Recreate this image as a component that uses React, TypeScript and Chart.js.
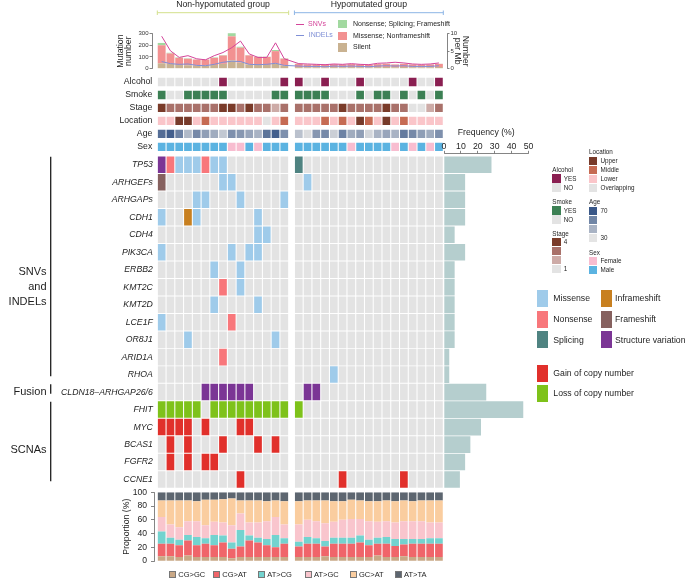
import React, { useEffect, useRef } from 'react';
import { Chart, registerables } from 'chart.js';

Chart.register(...registerables);

const FONT = "'Liberation Sans', Arial, Helvetica, sans-serif";
const INK = '#1e1e1e';
Chart.defaults.font.family = FONT;
Chart.defaults.color = INK;

// ---------------- data ----------------
const groupNames = ['Non-hypomutated group', 'Hypomutated group'];
const N_LEFT = 15;
const N_RIGHT = 17;

// top panel: mutation numbers (stacked) and rates per Mb (lines)
const silentCounts = [45, 40, 30, 28, 25, 25, 30, 40, 70, 50, 35, 30, 30, 40, 25,
  12, 11, 11, 10, 12, 11, 12, 11, 10, 12, 13, 11, 13, 11, 10, 11, 13];
const missenseCounts = [156, 90, 62, 56, 52, 52, 62, 72, 208, 130, 78, 70, 70, 110, 60,
  27, 24, 24, 23, 25, 24, 26, 24, 23, 26, 27, 24, 27, 24, 23, 24, 27];
const nonsenseCounts = [20, 6, 4, 4, 2, 2, 4, 4, 27, 8, 3, 2, 2, 10, 3,
  2, 1, 1, 1, 1, 1, 1, 1, 1, 1, 2, 1, 1, 1, 1, 1, 1];
const snvPerMb = [9.3, 5.1, 3.2, 3.7, 2.8, 2.5, 3.7, 4.6, 6.0, 7.9, 4.2, 3.2, 3.2, 7.4, 2.8,
  1.4, 1.3, 1.2, 1.1, 1.3, 1.2, 1.4, 1.2, 1.1, 1.5, 1.6, 1.8, 1.6, 1.3, 1.2, 1.3, 1.6];
const indelPerMb = [2.0, 1.4, 1.2, 1.3, 0.9, 0.8, 1.2, 1.8, 2.1, 2.0, 1.2, 1.1, 1.2, 1.5, 0.9,
  0.7, 0.6, 0.6, 0.5, 0.7, 0.6, 0.7, 0.6, 0.5, 0.7, 0.8, 0.7, 0.8, 0.6, 0.6, 0.6, 0.8];
const mutationTicks = [0, 100, 200, 300];
const perMbTicks = [0, 5, 10];

// clinical annotations
const annotationNames = ['Alcohol', 'Smoke', 'Stage', 'Location', 'Age', 'Sex'];
const alcohol = [0, 0, 0, 0, 0, 0, 0, 1, 0, 0, 0, 0, 0, 0, 1,
  1, 0, 0, 1, 0, 0, 0, 1, 0, 0, 0, 0, 0, 1, 0, 0, 1];
const smoke = [1, 0, 0, 1, 1, 1, 1, 1, 0, 0, 0, 0, 0, 1, 1,
  1, 1, 1, 1, 0, 0, 0, 1, 0, 1, 1, 0, 1, 0, 1, 0, 1];
const stage = [4, 3, 3, 3, 3, 3, 3, 4, 4, 3, 4, 3, 3, 2, 3,
  3, 3, 3, 3, 3, 4, 3, 3, 3, 3, 4, 3, 3, 1, 1, 2, 3];
const location = ['L', 'L', 'U', 'U', 'L', 'M', 'L', 'L', 'L', 'L', 'L', 'L', 'O', 'L', 'M',
  'L', 'L', 'L', 'M', 'L', 'M', 'L', 'U', 'M', 'L', 'U', 'L', 'M', 'L', 'L', 'L', 'L'];
const age = [64, 68, 58, 42, 56, 50, 46, 38, 54, 52, 48, 44, 62, 68, 54,
  40, 32, 52, 56, 36, 58, 46, 50, 34, 44, 48, 44, 60, 56, 50, 46, 54];
const sex = ['M', 'M', 'M', 'M', 'M', 'M', 'M', 'M', 'F', 'F', 'M', 'F', 'M', 'M', 'M',
  'M', 'M', 'M', 'M', 'M', 'M', 'F', 'M', 'M', 'M', 'M', 'F', 'M', 'F', 'M', 'F', 'M'];

// oncoprint (M missense, N nonsense, P splicing, I inframeshift, F frameshift,
// V structure variation, G gain, L loss, . none); left group | right group
const geneNames = ['TP53', 'ARHGEFs', 'ARHGAPs', 'CDH1', 'CDH4', 'PIK3CA', 'ERBB2', 'KMT2C',
  'KMT2D', 'LCE1F', 'OR8J1', 'ARID1A', 'RHOA', 'CLDN18\u2013ARHGAP26/6', 'FHIT', 'MYC',
  'BCAS1', 'FGFR2', 'CCNE1'];
const geneCodes = [
  'VNMMMNMM.......|P................',
  'F......MM......|.M...............',
  '....MM...M....M|.................',
  'M..IM......M...|.................',
  '...........MM..|.................',
  'M.......M.MM...|.................',
  '......M..M.....|.................',
  '.......N.M.....|.................',
  '......M....M...|.................',
  'M.......N......|.................',
  '...M.........M.|.................',
  '.......N.......|.................',
  '...............|....M............',
  '.....VVVVVV....|.VV..............',
  'LLLLL.LLLLLLLLL|L................',
  'GGGG.G...GG....|.................',
  '.G.G...G...G.G.|.................',
  '.G.G.GG........|.................',
  '.........G.....|.....G......G....',
];
const geneFrequency = [28.1, 12.5, 12.5, 12.5, 6.3, 12.5, 6.3, 6.3, 6.3, 6.3, 6.3, 3.1, 3.1,
  25.0, 46.9, 21.9, 15.6, 12.5, 9.4];
const frequencyTicks = [0, 10, 20, 30, 40, 50];
const geneGroupLabels = [['SNVs', 'and', 'INDELs'], ['Fusion'], ['SCNAs']];
const geneGroupFirst = [0, 13, 14];
const geneGroupLast = [12, 13, 18];
const geneGroupLabelRow = [7, 13, 16.3];

// bottom panel: substitution spectrum (%)
const spectrumNames = ['CG>GC', 'CG>AT', 'AT>CG', 'AT>GC', 'GC>AT', 'AT>TA'];
const cgGc = [7, 7, 6, 8, 6, 6, 6, 6, 4, 6, 6, 6, 6, 6, 6,
  6, 6, 6, 7, 6, 6, 6, 6, 6, 8, 6, 6, 7, 6, 6, 6, 6];
const cgAt = [18, 18, 17, 22, 17, 19, 17, 21, 14, 15, 24, 21, 17, 14, 19,
  15, 19, 19, 14, 19, 19, 19, 21, 17, 17, 19, 16, 17, 19, 19, 19, 19];
const atCg = [18, 9, 8, 8, 12, 8, 15, 10, 9, 24, 7, 7, 9, 18, 8,
  7, 10, 8, 8, 9, 9, 9, 10, 8, 9, 10, 10, 8, 7, 7, 8, 8];
const atGc = [21, 19, 18, 20, 23, 19, 19, 19, 25, 24, 19, 22, 26, 26, 20,
  25, 25, 25, 26, 23, 26, 27, 24, 27, 23, 23, 24, 26, 26, 26, 23, 23];
const gcAt = [24, 35, 39, 30, 29, 37, 32, 34, 39, 19, 32, 32, 29, 24, 34,
  34, 28, 30, 33, 30, 27, 28, 27, 29, 30, 30, 31, 30, 29, 30, 32, 32];
const atTa = [12, 12, 12, 12, 13, 11, 11, 10, 9, 12, 12, 12, 13, 12, 13,
  13, 12, 12, 12, 13, 13, 11, 12, 13, 13, 12, 13, 12, 13, 12, 12, 12];
const proportionTicks = [0, 20, 40, 60, 80, 100];

// ---------------- styles ----------------
const W = 685;
const H = 578;
const GAP = 0.657;
const positions = Array.from({ length: N_LEFT + N_RIGHT }, (_, i) => (i < N_LEFT ? i : i + GAP));
const GRID_L = 157.3;
const GRID_R = 443.3;
const X_MIN = -0.5;
const X_MAX = N_LEFT + GAP + N_RIGHT - 1 + 0.5;
const UNIT = (GRID_R - GRID_L) / (X_MAX - X_MIN);

const GREY = '#E3E3E3';
const MUT_COLOR: Record<string, string> = {
  '.': GREY, M: '#9FCBEA', N: '#F8777B', P: '#4F8381', I: '#C88020',
  F: '#86615F', V: '#7B3595', G: '#E1302B', L: '#7EC21A',
};
const ALC_YES = '#8A1F51';
const SMOKE_YES = '#3C8054';
const STAGE_COLOR: Record<number, string> = { 4: '#7A3B29', 3: '#A9716A', 2: '#CDABA7', 1: GREY };
const LOC_COLOR: Record<string, string> = { U: '#773A2A', M: '#C66B53', L: '#FAC5C9', O: GREY };
const SEX_COLOR: Record<string, string> = { F: '#F8BDD0', M: '#5BB3E1' };
const AGE_LO = [228, 228, 228];
const AGE_HI = [58, 88, 136];
const ageColor = (a: number) => {
  const t = Math.max(0, Math.min(1, (a - 30) / 40));
  const c = AGE_LO.map((lo, k) => Math.round(lo + (AGE_HI[k] - lo) * t));
  return `rgb(${c[0]},${c[1]},${c[2]})`;
};
const SILENT = '#C9B291';
const MISSENSE = '#F29191';
const NONSENSE = '#A2D9A0';
const SNV_LINE = '#D4449A';
const INDEL_LINE = '#7F8FD6';
const FREQ_BAR = '#B5CECE';
const SPECTRUM_COLORS = ['#C9A886', '#F0656A', '#73D3CF', '#F9C5CD', '#FACD9F', '#5D6670'];
const AXIS = '#333';

function sampleX(axisL: number, axisR: number) {
  return {
    type: 'linear' as const,
    display: false,
    stacked: true,
    offset: false,
    min: X_MIN - (GRID_L - axisL) / UNIT,
    max: X_MAX + (axisR - GRID_R) / UNIT,
    afterBuildTicks: (axis: any) => {
      axis.ticks = positions.map((v) => ({ value: v }));
    },
  };
}

const baseOptions = (padding: any) => ({
  responsive: false,
  animation: false as const,
  devicePixelRatio: 1,
  layout: { padding },
  plugins: { legend: { display: false }, tooltip: { enabled: false } },
});

const groupHeaderPlugin = {
  id: 'groupHeader',
  afterDraw(chart: any) {
    const xs = chart.scales.x;
    const ctx = chart.ctx;
    const spans = [
      [-0.5, N_LEFT - 0.5],
      [N_LEFT + GAP - 0.5, N_LEFT + GAP + N_RIGHT - 0.5],
    ];
    const colors = ['#D3E08C', '#8DB5E5'];
    ctx.save();
    spans.forEach((s, g) => {
      const a = xs.getPixelForValue(s[0]);
      const b = xs.getPixelForValue(s[1]);
      ctx.strokeStyle = colors[g];
      ctx.lineWidth = 1;
      ctx.beginPath();
      ctx.moveTo(a, 12.7);
      ctx.lineTo(b, 12.7);
      ctx.moveTo(a, 10.5);
      ctx.lineTo(a, 15);
      ctx.moveTo(b, 10.5);
      ctx.lineTo(b, 15);
      ctx.stroke();
      ctx.fillStyle = INK;
      ctx.font = `8.7px ${FONT}`;
      ctx.textAlign = 'center';
      ctx.textBaseline = 'middle';
      ctx.fillText(groupNames[g], (a + b) / 2, 5);
    });
    ctx.restore();
  },
};

const geneGroupPlugin = {
  id: 'geneGroups',
  afterDraw(chart: any) {
    const ys = chart.scales.y;
    const ctx = chart.ctx;
    ctx.save();
    geneGroupLabels.forEach((lines, g) => {
      const y0 = ys.getPixelForValue(geneGroupFirst[g] - 0.45);
      const y1 = ys.getPixelForValue(geneGroupLast[g] + 0.1);
      ctx.strokeStyle = INK;
      ctx.lineWidth = 1.3;
      ctx.beginPath();
      ctx.moveTo(50.7, y0);
      ctx.lineTo(50.7, y1);
      ctx.stroke();
      ctx.fillStyle = INK;
      ctx.font = `11px ${FONT}`;
      ctx.textAlign = 'right';
      ctx.textBaseline = 'middle';
      const cy = ys.getPixelForValue(geneGroupLabelRow[g]);
      lines.forEach((t, k) => ctx.fillText(t, 46.5, cy + (k - (lines.length - 1) / 2) * 15));
    });
    ctx.restore();
  },
};

function topConfig(): any {
  const pts = (arr: number[]) => positions.map((x, i) => ({ x, y: arr[i] }));
  const bar = { barPercentage: 0.9, categoryPercentage: 1, borderWidth: 0, yAxisID: 'y', order: 2, clip: false };
  return {
    type: 'bar',
    data: {
      datasets: [
        { ...bar, label: 'Silent', data: pts(silentCounts), backgroundColor: SILENT },
        { ...bar, label: 'Missense; Nonframeshift', data: pts(missenseCounts), backgroundColor: MISSENSE },
        { ...bar, label: 'Nonsense; Splicing; Frameshift', data: pts(nonsenseCounts), backgroundColor: NONSENSE },
        { type: 'line', label: 'SNVs', data: pts(snvPerMb), yAxisID: 'y2', borderColor: SNV_LINE, borderWidth: 1, pointRadius: 0, tension: 0, order: 0 },
        { type: 'line', label: 'INDELs', data: pts(indelPerMb), yAxisID: 'y2', borderColor: INDEL_LINE, borderWidth: 1, pointRadius: 0, tension: 0, order: 0 },
      ],
    },
    options: {
      ...baseOptions({ left: 114, right: 198, top: 33.8, bottom: 509.5 }),
      scales: {
        x: sampleX(152, 447),
        y: {
          type: 'linear', position: 'left', stacked: true, min: 0, max: 300,
          afterFit: (s: any) => { s.width = 38; },
          afterBuildTicks: (a: any) => { a.ticks = mutationTicks.map((v) => ({ value: v })); },
          ticks: { font: { size: 6 }, color: AXIS, padding: 1 },
          grid: { display: true, drawOnChartArea: false, drawTicks: true, tickLength: 2.5, color: AXIS, lineWidth: 0.6 },
          border: { display: true, color: AXIS, width: 0.6 },
          title: { display: true, text: ['Mutation', 'number'], font: { size: 8.7, lineHeight: 0.9 }, color: INK, padding: { top: 2.8, bottom: 0 } },
        },
        y2: {
          type: 'linear', position: 'right', min: 0, max: 10,
          afterFit: (s: any) => { s.width = 40; },
          afterBuildTicks: (a: any) => { a.ticks = perMbTicks.map((v) => ({ value: v })); },
          ticks: { font: { size: 6 }, color: AXIS, padding: 1 },
          grid: { display: true, drawOnChartArea: false, drawTicks: true, tickLength: 2.5, color: AXIS, lineWidth: 0.6 },
          border: { display: true, color: AXIS, width: 0.6 },
          title: { display: true, text: ['Number', 'per Mb'], font: { size: 8.7, lineHeight: 0.9 }, color: INK, padding: { top: 18, bottom: 0 } },
        },
      },
    },
    plugins: [groupHeaderPlugin],
  };
}

function annotationConfig(): any {
  const rowColors = [
    alcohol.map((v) => (v ? ALC_YES : GREY)),
    smoke.map((v) => (v ? SMOKE_YES : GREY)),
    stage.map((v) => STAGE_COLOR[v]),
    location.map((v) => LOC_COLOR[v]),
    age.map((v) => ageColor(v)),
    sex.map((v) => SEX_COLOR[v]),
  ];
  return {
    type: 'bar',
    data: {
      datasets: annotationNames.map((name, r) => ({
        label: name,
        data: positions.map((x) => ({ x, y: [r - 0.32, r + 0.32] })),
        backgroundColor: rowColors[r],
        borderWidth: 0,
        grouped: false,
        barPercentage: 0.88,
        categoryPercentage: 1,
      })),
    },
    options: {
      ...baseOptions({ left: 0, right: W - GRID_R, top: 75.5, bottom: H - 153.4 }),
      scales: {
        x: sampleX(GRID_L, GRID_R),
        y: {
          type: 'linear', reverse: true, offset: false, min: -0.5, max: annotationNames.length - 0.5,
          afterFit: (s: any) => { s.width = GRID_L; },
          afterBuildTicks: (a: any) => { a.ticks = annotationNames.map((_, i) => ({ value: i })); },
          ticks: { callback: (v: number) => annotationNames[v], font: { size: 8.7 }, color: INK, padding: 5, autoSkip: false },
          grid: { display: false, drawTicks: false },
          border: { display: false },
        },
      },
    },
  };
}

function geneConfig(): any {
  return {
    type: 'bar',
    data: {
      datasets: geneNames.map((name, r) => {
        const codes = geneCodes[r].replace('|', '').split('');
        return {
          label: name,
          data: positions.map((x) => ({ x, y: [r - 0.472, r + 0.472] })),
          backgroundColor: codes.map((c) => MUT_COLOR[c]),
          borderWidth: 0,
          grouped: false,
          barPercentage: 0.88,
          categoryPercentage: 1,
        };
      }),
    },
    options: {
      ...baseOptions({ left: 0, right: W - GRID_R, top: 156, bottom: H - 488.3 }),
      scales: {
        x: sampleX(GRID_L, GRID_R),
        y: {
          type: 'linear', reverse: true, offset: false, min: -0.5, max: geneNames.length - 0.5,
          afterFit: (s: any) => { s.width = GRID_L; },
          afterBuildTicks: (a: any) => { a.ticks = geneNames.map((_, i) => ({ value: i })); },
          ticks: { callback: (v: number) => geneNames[v], font: { size: 8.7, style: 'italic' }, color: INK, padding: 4.5, autoSkip: false },
          grid: { display: false, drawTicks: false },
          border: { display: false },
        },
      },
    },
    plugins: [geneGroupPlugin],
  };
}

function frequencyConfig(): any {
  const rowPx = (488.3 - 156) / geneNames.length;
  return {
    type: 'bar',
    data: {
      datasets: [{
        label: 'Frequency (%)',
        data: geneFrequency.map((v, i) => ({ x: v, y: i })),
        backgroundColor: FREQ_BAR,
        borderWidth: 0,
        barPercentage: 0.95,
        categoryPercentage: 1,
      }],
    },
    options: {
      ...baseOptions({ left: 444, right: W - 528.5, top: 120, bottom: H - 488.3 }),
      indexAxis: 'y',
      scales: {
        y: {
          type: 'linear', display: false, reverse: true, offset: false,
          min: -0.5 - (156 - 153.3) / rowPx, max: geneNames.length - 0.5,
          afterBuildTicks: (a: any) => { a.ticks = geneNames.map((_, i) => ({ value: i })); },
        },
        x: {
          type: 'linear', position: 'top', min: 0, max: 50,
          afterFit: (s: any) => { s.height = 33.3; },
          afterBuildTicks: (a: any) => { a.ticks = frequencyTicks.map((v) => ({ value: v })); },
          ticks: { font: { size: 8.7, lineHeight: 1 }, color: INK, padding: 0, maxRotation: 0 },
          grid: { display: true, drawOnChartArea: false, drawTicks: true, tickLength: 2.5, color: AXIS, lineWidth: 0.6 },
          border: { display: true, color: AXIS, width: 0.6 },
          title: { display: true, text: 'Frequency (%)', font: { size: 8.7 }, color: INK, padding: { top: 7.8, bottom: 0 } },
        },
      },
    },
  };
}

function proportionConfig(): any {
  const series = [cgGc, cgAt, atCg, atGc, gcAt, atTa];
  return {
    type: 'bar',
    data: {
      datasets: series.map((arr, k) => ({
        label: spectrumNames[k],
        data: positions.map((x, i) => ({ x, y: arr[i] })),
        backgroundColor: SPECTRUM_COLORS[k],
        borderWidth: 0,
        barPercentage: 0.88,
        categoryPercentage: 1,
      })),
    },
    options: {
      ...baseOptions({ left: 110, right: W - GRID_R, top: 492.3, bottom: H - 561 }),
      scales: {
        x: sampleX(154, GRID_R),
        y: {
          type: 'linear', stacked: true, min: 0, max: 100,
          afterFit: (s: any) => { s.width = 44; },
          afterBuildTicks: (a: any) => { a.ticks = proportionTicks.map((v) => ({ value: v })); },
          ticks: { font: { size: 8.6 }, color: INK, padding: 4 },
          grid: { display: true, drawOnChartArea: false, drawTicks: true, tickLength: 3, color: AXIS, lineWidth: 0.6 },
          border: { display: true, color: AXIS, width: 0.6 },
          title: { display: true, text: 'Proportion (%)', font: { size: 8.7 }, color: INK, padding: { top: 11, bottom: 0 } },
        },
      },
    },
  };
}

// ---------------- small HTML legend helpers ----------------
function Txt(props: { x: number; cy: number; size: number; children: any }) {
  const h = props.size * 1.2;
  return (
    <div style={{ position: 'absolute', left: props.x, top: props.cy - h / 2, height: h, lineHeight: `${h}px`, fontSize: props.size, whiteSpace: 'nowrap', color: INK }}>
      {props.children}
    </div>
  );
}
function Box(props: { x: number; y: number; w: number; h: number; color: string; border?: string }) {
  return (
    <div style={{ position: 'absolute', left: props.x, top: props.y, width: props.w, height: props.h, background: props.color, boxSizing: 'border-box', border: props.border || 'none' }} />
  );
}
function Stack(props: { x: number; titleY: number; title: string; top: number; colors: string[]; labels: string[] }) {
  const S = 6.3;
  return (
    <>
      <Txt x={props.x} cy={props.titleY} size={S}>{props.title}</Txt>
      {props.colors.map((c, k) => (
        <Box key={'b' + k} x={props.x} y={props.top + k * 9} w={8.3} h={8.5} color={c} />
      ))}
      {props.labels.map((l, k) => (l ? <Txt key={'t' + k} x={props.x + 11.5} cy={props.top + k * 9 + 4.3} size={S}>{l}</Txt> : null))}
    </>
  );
}

export default function App() {
  const r1 = useRef<HTMLCanvasElement>(null);
  const r2 = useRef<HTMLCanvasElement>(null);
  const r3 = useRef<HTMLCanvasElement>(null);
  const r4 = useRef<HTMLCanvasElement>(null);
  const r5 = useRef<HTMLCanvasElement>(null);

  useEffect(() => {
    const charts: Chart[] = [];
    charts.push(new Chart(r1.current!, topConfig()));
    charts.push(new Chart(r2.current!, annotationConfig()));
    charts.push(new Chart(r3.current!, geneConfig()));
    charts.push(new Chart(r4.current!, frequencyConfig()));
    charts.push(new Chart(r5.current!, proportionConfig()));
    return () => charts.forEach((c) => c.destroy());
  }, []);

  const cv = { position: 'absolute' as const, left: 0, top: 0, width: W, height: H };
  const mutLeft = [['Missense', 'M'], ['Nonsense', 'N'], ['Splicing', 'P']];
  const mutRight = [['Inframeshift', 'I'], ['Frameshift', 'F'], ['Structure variation', 'V']];
  const cnv = [['Gain of copy number', 'G'], ['Loss of copy number', 'L']];
  const specX = [169.3, 213.3, 258.3, 305, 350, 395];

  return (
    <div style={{ position: 'absolute', left: 0, top: 0, width: W, height: H, background: '#fff', overflow: 'hidden', fontFamily: FONT }}>
      <canvas ref={r1} width={W} height={H} style={cv} />
      <canvas ref={r2} width={W} height={H} style={cv} />
      <canvas ref={r3} width={W} height={H} style={cv} />
      <canvas ref={r4} width={W} height={H} style={cv} />
      <canvas ref={r5} width={W} height={H} style={cv} />

      {/* top panel legend */}
      <div style={{ position: 'absolute', left: 296, top: 23.8, width: 7.5, height: 1, background: SNV_LINE }} />
      <Txt x={308} cy={24.3} size={7}><span style={{ color: SNV_LINE }}>SNVs</span></Txt>
      <div style={{ position: 'absolute', left: 296, top: 34.8, width: 7.5, height: 1, background: INDEL_LINE }} />
      <Txt x={308.7} cy={35.3} size={7}><span style={{ color: INDEL_LINE }}>INDELs</span></Txt>
      <Box x={338} y={20} w={8.5} h={8.3} color={NONSENSE} />
      <Txt x={353} cy={24.2} size={7}>Nonsense; Splicing; Frameshift</Txt>
      <Box x={338} y={31.7} w={8.5} h={8.3} color={MISSENSE} />
      <Txt x={353} cy={35.9} size={7}>Missense; Nonframeshift</Txt>
      <Box x={338} y={43.3} w={8.5} h={8.3} color={SILENT} />
      <Txt x={353} cy={47.5} size={7}>Silent</Txt>

      {/* clinical legends */}
      <Stack x={589} titleY={151.7} title="Location" top={156.7}
        colors={[LOC_COLOR.U, LOC_COLOR.M, LOC_COLOR.L, LOC_COLOR.O]} labels={['Upper', 'Middle', 'Lower', 'Overlapping']} />
      <Stack x={552.3} titleY={169.3} title="Alcohol" top={174.3} colors={[ALC_YES, GREY]} labels={['YES', 'NO']} />
      <Stack x={552.3} titleY={201.3} title="Smoke" top={206} colors={[SMOKE_YES, GREY]} labels={['YES', 'NO']} />
      <Stack x={552.3} titleY={233.3} title="Stage" top={237.7}
        colors={[STAGE_COLOR[4], STAGE_COLOR[3], STAGE_COLOR[2], STAGE_COLOR[1]]} labels={['4', '', '', '1']} />
      <Stack x={589} titleY={201.7} title="Age" top={206.7}
        colors={[ageColor(70), ageColor(57), ageColor(44), ageColor(30)]} labels={['70', '', '', '30']} />
      <Stack x={589} titleY={252.3} title="Sex" top={256.7} colors={[SEX_COLOR.F, SEX_COLOR.M]} labels={['Female', 'Male']} />

      {/* alteration legend */}
      {mutLeft.map(([t, c], k) => (
        <React.Fragment key={'ml' + k}>
          <Box x={536.7} y={290 + k * 20.7} w={11} h={17} color={MUT_COLOR[c]} />
          <Txt x={553.3} cy={298.5 + k * 20.7} size={8.7}>{t}</Txt>
        </React.Fragment>
      ))}
      {mutRight.map(([t, c], k) => (
        <React.Fragment key={'mr' + k}>
          <Box x={600.7} y={290 + k * 20.7} w={11} h={17} color={MUT_COLOR[c]} />
          <Txt x={615} cy={298.5 + k * 20.7} size={8.7}>{t}</Txt>
        </React.Fragment>
      ))}
      {cnv.map(([t, c], k) => (
        <React.Fragment key={'cn' + k}>
          <Box x={536.7} y={364.5 + k * 20.5} w={11} h={17} color={MUT_COLOR[c]} />
          <Txt x={553.3} cy={373 + k * 20.5} size={8.7}>{t}</Txt>
        </React.Fragment>
      ))}

      {/* spectrum legend */}
      {spectrumNames.map((t, k) => (
        <React.Fragment key={'sp' + k}>
          <Box x={specX[k]} y={570.8} w={6.8} h={6.8} color={SPECTRUM_COLORS[k]} border="0.6px solid #777" />
          <Txt x={specX[k] + 9} cy={574.3} size={7.5}>{t}</Txt>
        </React.Fragment>
      ))}
    </div>
  );
}
